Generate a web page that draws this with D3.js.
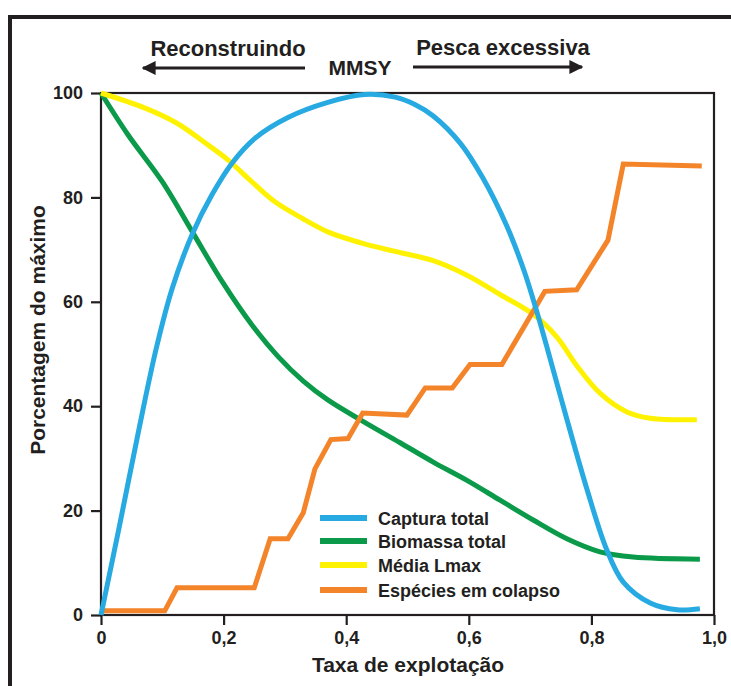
<!DOCTYPE html>
<html>
<head>
<meta charset="utf-8">
<script src="https://cdn.jsdelivr.net/npm/d3@7"></script>
<style>
  html, body { margin: 0; padding: 0; background: #ffffff; }
  svg { display: block; }
  text { font-family: "Liberation Sans", Arial, sans-serif; font-weight: bold; fill: #231f20; }
</style>
</head>
<body>
<svg id="chart" width="731" height="686"></svg>
<script>
// ---------- data ----------
const xTickValues = [0, 0.2, 0.4, 0.6, 0.8, 1.0];
const xTickLabels = ["0", "0,2", "0,4", "0,6", "0,8", "1,0"];
const yTickValues = [0, 20, 40, 60, 80, 100];
const yTickLabels = ["0", "20", "40", "60", "80", "100"];

const seriesNames = ["Captura total", "Biomassa total", "Média Lmax", "Espécies em colapso"];
const seriesColors = ["#27aae1", "#0b9a4a", "#fff200", "#f4842a"];

const capturaTotal = [
  [0, 0], [0.03, 17], [0.06, 34.5], [0.09, 51], [0.116, 62.5], [0.149, 73],
  [0.181, 80.5], [0.214, 86.6], [0.251, 91.3], [0.305, 95.3], [0.37, 98.2], [0.43, 99.7],
  [0.48, 99.2], [0.512, 97.8], [0.542, 95.6], [0.586, 90.4], [0.623, 83.7], [0.662, 74.5],
  [0.69, 66], [0.71, 58.5], [0.727, 51.5], [0.76, 37.5], [0.793, 24], [0.825, 12.5], [0.852, 6.3],
  [0.896, 2.3], [0.94, 1], [0.977, 1.2]
];
const biomassaTotal = [
  [0, 100], [0.044, 92], [0.1, 83], [0.149, 73.4], [0.198, 63.8], [0.246, 55.6],
  [0.289, 49.5], [0.33, 44.8], [0.37, 41.2], [0.426, 37.2], [0.488, 33], [0.542, 29.3],
  [0.597, 25.8], [0.651, 22], [0.705, 18.2], [0.76, 14.6], [0.814, 12.1], [0.868, 11.1],
  [0.977, 10.7]
];
const mediaLmax = [
  [0, 100], [0.072, 97.1], [0.124, 94.2], [0.168, 90.6], [0.207, 87.2], [0.246, 83],
  [0.282, 79.3], [0.328, 76], [0.37, 73.4], [0.424, 71.3], [0.478, 69.7], [0.542, 67.9],
  [0.597, 65.1], [0.651, 61.4], [0.705, 57.6], [0.744, 53.2], [0.776, 47.8], [0.814, 42.5],
  [0.858, 38.9], [0.896, 37.7], [0.972, 37.4]
];
const especiesColapso = [
  [0, 0.8], [0.104, 0.8], [0.124, 5.2], [0.25, 5.2], [0.276, 14.6], [0.305, 14.6],
  [0.33, 19.6], [0.349, 28], [0.375, 33.6], [0.403, 33.8], [0.427, 38.7], [0.499, 38.3],
  [0.529, 43.5], [0.573, 43.5], [0.602, 48], [0.654, 48], [0.724, 62], [0.776, 62.3],
  [0.827, 71.8], [0.852, 86.4], [0.98, 86]
];

const xTitle = "Taxa de explotação";
const yTitle = "Porcentagem do máximo";
const leftLabel = "Reconstruindo";
const centerLabel = "MMSY";
const rightLabel = "Pesca excessiva";

// ---------- layout ----------
const svg = d3.select("#chart");
const L = 101, R = 714, T = 93, B = 615;
const x = d3.scaleLinear().domain([0, 1]).range([L, R]);
const y = d3.scaleLinear().domain([0, 100]).range([B, T]);
const ink = "#231f20";

// outer frame (extends beyond the picture at right and bottom)
svg.append("rect").attr("x", 10).attr("y", 17).attr("width", 800).attr("height", 800)
  .attr("fill", "none").attr("stroke", ink).attr("stroke-width", 4);

// plot frame
svg.append("rect").attr("x", L).attr("y", T).attr("width", R - L).attr("height", B - T)
  .attr("fill", "none").attr("stroke", ink).attr("stroke-width", 2.2);

// axes
const yAxis = d3.axisLeft(y).tickValues(yTickValues).tickSize(10).tickPadding(8)
  .tickFormat((d, i) => yTickLabels[i]);
const gy = svg.append("g").attr("transform", `translate(${L},0)`).call(yAxis);
gy.select(".domain").remove();
gy.selectAll("line").attr("stroke", ink).attr("stroke-width", 2.2);
gy.selectAll("text").attr("font-size", 18).attr("font-family", "'Liberation Sans', Arial, sans-serif")
  .attr("font-weight", "bold").attr("fill", ink);

const xAxis = d3.axisBottom(x).tickValues(xTickValues).tickSize(10).tickPadding(6)
  .tickFormat((d, i) => xTickLabels[i]);
const gx = svg.append("g").attr("transform", `translate(0,${B})`).call(xAxis);
gx.select(".domain").remove();
gx.selectAll("line").attr("stroke", ink).attr("stroke-width", 2.2);
gx.selectAll("text").attr("font-size", 18).attr("font-family", "'Liberation Sans', Arial, sans-serif")
  .attr("font-weight", "bold").attr("fill", ink);

// axis titles
svg.append("text").attr("x", 408).attr("y", 672).attr("text-anchor", "middle")
  .attr("font-size", 21).text(xTitle);
svg.append("text").attr("transform", "translate(45,330) rotate(-90)").attr("text-anchor", "middle")
  .attr("font-size", 21).text(yTitle);

// top annotation
svg.append("text").attr("x", 228).attr("y", 56).attr("text-anchor", "middle").attr("font-size", 22).text(leftLabel);
svg.append("text").attr("x", 360).attr("y", 75).attr("text-anchor", "middle").attr("font-size", 21).text(centerLabel);
svg.append("text").attr("x", 503).attr("y", 55).attr("text-anchor", "middle").attr("font-size", 22).text(rightLabel);

const defs = svg.append("defs");
defs.append("marker").attr("id", "arrow").attr("viewBox", "0 0 10 10").attr("refX", 9).attr("refY", 5)
  .attr("markerWidth", 5).attr("markerHeight", 5).attr("markerUnits", "strokeWidth")
  .attr("orient", "auto")
  .append("path").attr("d", "M0,0 L10,5 L0,10 Z").attr("fill", ink);

svg.append("line").attr("x1", 305).attr("y1", 68).attr("x2", 143).attr("y2", 68)
  .attr("stroke", ink).attr("stroke-width", 2.8).attr("marker-end", "url(#arrow)");
svg.append("line").attr("x1", 413).attr("y1", 67).attr("x2", 582).attr("y2", 67)
  .attr("stroke", ink).attr("stroke-width", 2.8).attr("marker-end", "url(#arrow)");

// series
const smooth = d3.line().x(d => x(d[0])).y(d => y(d[1])).curve(d3.curveCatmullRom.alpha(0.5));
const straight = d3.line().x(d => x(d[0])).y(d => y(d[1]));

const series = [
  { data: biomassaTotal, color: seriesColors[1], gen: smooth },
  { data: mediaLmax, color: seriesColors[2], gen: smooth },
  { data: especiesColapso, color: seriesColors[3], gen: straight },
  { data: capturaTotal, color: seriesColors[0], gen: smooth }
];
series.forEach(s => {
  svg.append("path").attr("d", s.gen(s.data)).attr("fill", "none")
    .attr("stroke", s.color).attr("stroke-width", 5)
    .attr("stroke-linejoin", "miter").attr("stroke-linecap", "butt");
});

// legend
const legendRows = [518, 541, 565, 590];
seriesNames.forEach((name, i) => {
  svg.append("line").attr("x1", 320).attr("x2", 367).attr("y1", legendRows[i]).attr("y2", legendRows[i])
    .attr("stroke", seriesColors[i]).attr("stroke-width", 6);
  svg.append("text").attr("x", 378).attr("y", legendRows[i] + 6.5).attr("font-size", 18).text(name);
});
</script>
</body>
</html>
